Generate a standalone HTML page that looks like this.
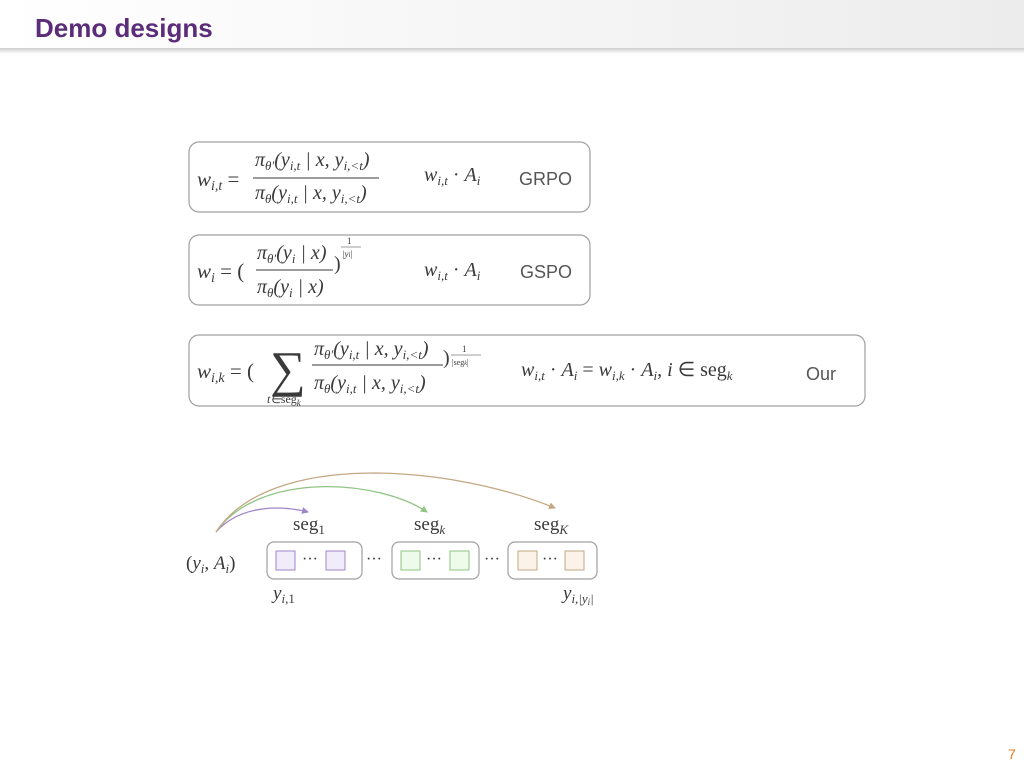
<!DOCTYPE html>
<html><head><meta charset="utf-8"><style>
html,body{margin:0;padding:0;background:#fff;}
svg{display:block;}
.m{font-family:"Liberation Serif",serif;font-style:italic;fill:#3a3a3a;}
.r{font-family:"Liberation Serif",serif;font-style:normal;fill:#3a3a3a;}
.s{font-family:"Liberation Sans",sans-serif;fill:#555;}
</style></head><body>
<svg width="1024" height="768" viewBox="0 0 1024 768" xmlns="http://www.w3.org/2000/svg">
<defs>
<linearGradient id="hg" x1="0" x2="1" y1="0" y2="0"><stop offset="0" stop-color="#ffffff"/><stop offset="1" stop-color="#ececec"/></linearGradient>
<linearGradient id="sh" x1="0" x2="0" y1="0" y2="1"><stop offset="0" stop-color="#cfcfcf"/><stop offset="1" stop-color="#ffffff"/></linearGradient>
<marker id="ap" markerWidth="7" markerHeight="7" refX="6" refY="3.5" orient="auto" markerUnits="userSpaceOnUse"><path d="M0,0 L7,3.5 L0,7 z" fill="#9f85c9"/></marker>
<marker id="ag" markerWidth="7" markerHeight="7" refX="6" refY="3.5" orient="auto" markerUnits="userSpaceOnUse"><path d="M0,0 L7,3.5 L0,7 z" fill="#8fc483"/></marker>
<marker id="at" markerWidth="7" markerHeight="7" refX="6" refY="3.5" orient="auto" markerUnits="userSpaceOnUse"><path d="M0,0 L7,3.5 L0,7 z" fill="#c4a783"/></marker>
</defs>
<rect x="0" y="0" width="1024" height="48" fill="url(#hg)"/>
<rect x="0" y="48" width="1024" height="6" fill="url(#sh)"/>
<text x="35" y="37" font-family="Liberation Sans,sans-serif" font-weight="bold" font-size="26" fill="#5b2c7a">Demo designs</text>

<g fill="none" stroke="#a0a0a0" stroke-width="1.2">
<rect x="189" y="142" width="401" height="70" rx="10"/>
<rect x="189" y="235" width="401" height="70" rx="10"/>
<rect x="189" y="335" width="676" height="71" rx="10"/>
</g>

<!-- box 1 -->
<text class="m" x="197" y="186" font-size="21">w<tspan font-size="14" dy="4">i,t</tspan><tspan class="r" font-style="normal" dy="-4"> =</tspan></text>
<line x1="253" y1="178" x2="379" y2="178" stroke="#3a3a3a" stroke-width="1"/>
<text class="m" x="255" y="166" font-size="20">π<tspan font-size="13" dy="4">θ′</tspan><tspan dy="-4">(y</tspan><tspan font-size="13" dy="4">i,t</tspan><tspan dy="-4"> | x, y</tspan><tspan font-size="13" dy="4">i,&lt;t</tspan><tspan dy="-4">)</tspan></text>
<text class="m" x="255" y="199" font-size="20">π<tspan font-size="13" dy="4">θ</tspan><tspan dy="-4">(y</tspan><tspan font-size="13" dy="4">i,t</tspan><tspan dy="-4"> | x, y</tspan><tspan font-size="13" dy="4">i,&lt;t</tspan><tspan dy="-4">)</tspan></text>
<text class="m" x="424" y="181" font-size="20">w<tspan font-size="13" dy="4">i,t</tspan><tspan dy="-4" font-style="normal"> · </tspan>A<tspan font-size="13" dy="4">i</tspan></text>
<text class="s" x="519" y="185" font-size="18">GRPO</text>

<!-- box 2 -->
<text class="m" x="197" y="278" font-size="21">w<tspan font-size="14" dy="4">i</tspan><tspan font-style="normal" dy="-4"> = (</tspan></text>
<line x1="256" y1="270" x2="333" y2="270" stroke="#3a3a3a" stroke-width="1"/>
<text class="m" x="257" y="259" font-size="20">π<tspan font-size="13" dy="4">θ′</tspan><tspan dy="-4">(y</tspan><tspan font-size="13" dy="4">i</tspan><tspan dy="-4"> | x)</tspan></text>
<text class="m" x="257" y="293" font-size="20">π<tspan font-size="13" dy="4">θ</tspan><tspan dy="-4">(y</tspan><tspan font-size="13" dy="4">i</tspan><tspan dy="-4"> | x)</tspan></text>
<text class="r" x="334" y="270" font-size="20">)</text>
<text class="r" x="347" y="244" font-size="9">1</text>
<line x1="341" y1="247" x2="361" y2="247" stroke="#3a3a3a" stroke-width="0.6"/>
<text class="m" x="342" y="257" font-size="9">|y<tspan font-size="7">i</tspan>|</text>
<text class="m" x="424" y="276" font-size="20">w<tspan font-size="13" dy="4">i,t</tspan><tspan dy="-4" font-style="normal"> · </tspan>A<tspan font-size="13" dy="4">i</tspan></text>
<text class="s" x="520" y="278" font-size="18">GSPO</text>

<!-- box 3 -->
<text class="m" x="197" y="378" font-size="21">w<tspan font-size="14" dy="4">i,k</tspan><tspan font-style="normal" dy="-4"> = (</tspan></text>
<text class="r" x="270" y="386" font-size="50">∑</text>
<text class="m" x="267" y="403" font-size="12">t∈<tspan font-style="normal">seg</tspan><tspan font-size="9" dy="3">k</tspan></text>
<line x1="312" y1="365" x2="443" y2="365" stroke="#3a3a3a" stroke-width="1"/>
<text class="m" x="314" y="355" font-size="20">π<tspan font-size="13" dy="4">θ′</tspan><tspan dy="-4">(y</tspan><tspan font-size="13" dy="4">i,t</tspan><tspan dy="-4"> | x, y</tspan><tspan font-size="13" dy="4">i,&lt;t</tspan><tspan dy="-4">)</tspan></text>
<text class="m" x="314" y="389" font-size="20">π<tspan font-size="13" dy="4">θ</tspan><tspan dy="-4">(y</tspan><tspan font-size="13" dy="4">i,t</tspan><tspan dy="-4"> | x, y</tspan><tspan font-size="13" dy="4">i,&lt;t</tspan><tspan dy="-4">)</tspan></text>
<text class="r" x="443" y="364" font-size="20">)</text>
<text class="r" x="462" y="352" font-size="9">1</text>
<line x1="451" y1="355" x2="481" y2="355" stroke="#3a3a3a" stroke-width="0.6"/>
<text class="r" x="452" y="365" font-size="8">|seg<tspan font-style="italic" font-size="6">k</tspan>|</text>
<text class="m" x="521" y="376" font-size="20">w<tspan font-size="13" dy="4">i,t</tspan><tspan dy="-4" font-style="normal"> · </tspan>A<tspan font-size="13" dy="4">i</tspan><tspan dy="-4" font-style="normal"> = </tspan>w<tspan font-size="13" dy="4">i,k</tspan><tspan dy="-4" font-style="normal"> · </tspan>A<tspan font-size="13" dy="4">i</tspan><tspan dy="-4">, i </tspan><tspan font-style="normal">∈ seg</tspan><tspan font-size="13" dy="4">k</tspan></text>
<text class="s" x="806" y="380" font-size="18">Our</text>

<!-- diagram -->
<path d="M216,532 C240,505 280,505 308,512" fill="none" stroke="#9f85c9" stroke-width="1.3" marker-end="url(#ap)"/>
<path d="M216,532 C260,470 380,480 427,512" fill="none" stroke="#8fc483" stroke-width="1.3" marker-end="url(#ag)"/>
<path d="M216,532 C270,450 450,465 555,508" fill="none" stroke="#c4a783" stroke-width="1.3" marker-end="url(#at)"/>

<text class="r" x="293" y="530" font-size="19">seg<tspan font-size="13" dy="4">1</tspan></text>
<text class="r" x="414" y="530" font-size="19">seg<tspan class="m" font-size="13" dy="4">k</tspan></text>
<text class="r" x="534" y="530" font-size="19">seg<tspan class="m" font-size="13" dy="4">K</tspan></text>

<text class="r" x="186" y="569" font-size="19">(<tspan font-style="italic">y</tspan><tspan font-style="italic" font-size="13" dy="4">i</tspan><tspan dy="-4">, </tspan><tspan font-style="italic">A</tspan><tspan font-style="italic" font-size="13" dy="4">i</tspan><tspan dy="-4">)</tspan></text>

<g fill="none" stroke="#a0a0a0" stroke-width="1.2">
<rect x="267" y="542" width="95" height="37" rx="7"/>
<rect x="392" y="542" width="87" height="37" rx="7"/>
<rect x="508" y="542" width="89" height="37" rx="7"/>
</g>
<rect x="276" y="551" width="19" height="19" fill="#f1ecfa" stroke="#9f85c9"/>
<rect x="326" y="551" width="19" height="19" fill="#f1ecfa" stroke="#9f85c9"/>
<rect x="401" y="551" width="19" height="19" fill="#eefaea" stroke="#8fc483"/>
<rect x="450" y="551" width="19" height="19" fill="#eefaea" stroke="#8fc483"/>
<rect x="518" y="551" width="19" height="19" fill="#fbf3ea" stroke="#c4a783"/>
<rect x="565" y="551" width="19" height="19" fill="#fbf3ea" stroke="#c4a783"/>
<g class="r" font-size="16">
<text x="302" y="564">···</text>
<text x="366" y="564">···</text>
<text x="426" y="564">···</text>
<text x="484" y="564">···</text>
<text x="542" y="564">···</text>
</g>
<text class="m" x="273" y="599" font-size="19">y<tspan font-style="normal" font-size="13" dy="4"><tspan font-style="italic">i</tspan>,1</tspan></text>
<text class="m" x="563" y="599" font-size="19">y<tspan font-size="13" dy="4">i,|y</tspan><tspan font-size="9" dy="2">i</tspan><tspan font-size="13" dy="-2">|</tspan></text>

<text x="1008" y="759" font-family="Liberation Sans,sans-serif" font-size="14" fill="#e07a1f">7</text>
</svg>
</body></html>
